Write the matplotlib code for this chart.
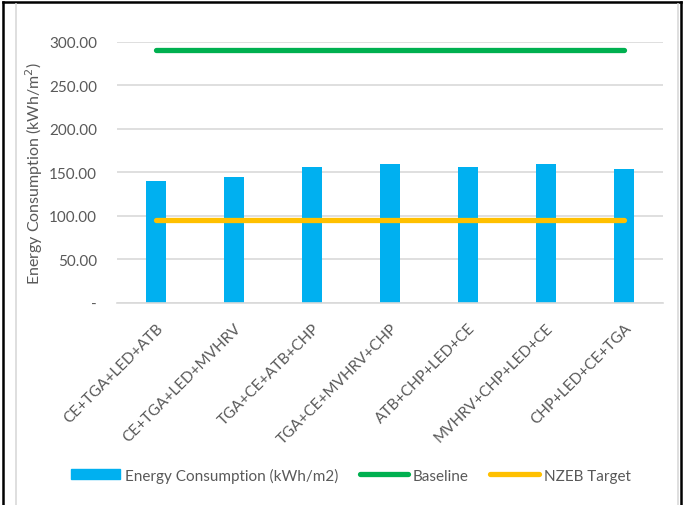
import numpy as np
import matplotlib
matplotlib.use('Agg')
import matplotlib.pyplot as plt
from matplotlib.lines import Line2D
from matplotlib.patches import Patch

plt.rcParams['font.family'] = ['Lato', 'DejaVu Sans']

# --- data ---
combos = ['CE+TGA+LED+ATB', 'CE+TGA+LED+MVHRV', 'TGA+CE+ATB+CHP',
          'TGA+CE+MVHRV+CHP', 'ATB+CHP+LED+CE', 'MVHRV+CHP+LED+CE',
          'CHP+LED+CE+TGA']
energy = [139.5, 144.0, 155.5, 159.0, 156.0, 160.0, 153.5]
baseline = [290.0] * len(combos)
nzeb_target = [95.0] * len(combos)
yticks = [0, 50, 100, 150, 200, 250, 300]

TXT = '#595959'
GRID = '#D9D9D9'

fig = plt.figure(figsize=(6.83, 5.06), dpi=100)
ax = fig.add_axes([117 / 683, 1 - 303.7 / 506, 546 / 683, 261 / 506])

x = np.arange(len(combos))
ax.bar(x, energy, width=0.245, color='#00B0F0', zorder=2)
ax.plot(x, baseline, color='#00B050', lw=3.8, solid_capstyle='round', zorder=3)
ax.plot(x, nzeb_target, color='#FFC000', lw=3.8, solid_capstyle='round', zorder=3)

ax.set_xlim(-0.5, len(combos) - 0.5)
ax.set_ylim(0, 300)
ax.set_yticks(yticks)
ax.set_yticklabels(['-' if v == 0 else f'{v:.2f}' for v in yticks],
                   color=TXT, fontsize=11)
ax.set_xticks(x)
ax.set_xticklabels(combos, rotation=45, ha='right', va='top',
                   rotation_mode='anchor', color=TXT, fontsize=11)
ax.tick_params(axis='both', length=0)
ax.tick_params(axis='y', pad=14.5)
ax.tick_params(axis='x', pad=13)
ax.grid(axis='y', color=GRID, lw=1.2, zorder=0)
ax.set_axisbelow(True)
for s in ['top', 'right', 'left']:
    ax.spines[s].set_visible(False)
ax.spines['bottom'].set_color(GRID)
ax.spines['bottom'].set_linewidth(1.2)

ax.set_ylabel('Energy Consumption (kWh/m$^2$)', color=TXT, fontsize=11.5)
ax.yaxis.set_label_coords(-0.132, 0.5)

handles = [Patch(color='#00B0F0'),
           Line2D([], [], color='#00B050', lw=3.8, solid_capstyle='round'),
           Line2D([], [], color='#FFC000', lw=3.8, solid_capstyle='round')]
labels = ['Energy Consumption (kWh/m2)', 'Baseline', 'NZEB Target']
fig.legend(handles, labels, loc='center', bbox_to_anchor=(351 / 683, 1 - 476 / 506),
           ncol=3, frameon=False, fontsize=11, labelcolor=TXT,
           handlelength=3.2, handleheight=0.6, handletextpad=0.3, columnspacing=1.4)

# outer frame (black) and chart-area edge (light gray)
fig.add_artist(Line2D([3 / 683, 3 / 683], [0, 1 - 3 / 506], color='black', lw=1.8))
fig.add_artist(Line2D([3 / 683, 681 / 683], [1 - 3 / 506, 1 - 3 / 506], color='black', lw=1.8))
fig.add_artist(Line2D([681 / 683, 681 / 683], [0, 1 - 3 / 506], color='black', lw=1.8))
fig.add_artist(Line2D([16 / 683, 16 / 683], [0, 1 - 5 / 506], color=GRID, lw=1.2))
fig.add_artist(Line2D([678 / 683, 678 / 683], [0, 1 - 5 / 506], color=GRID, lw=1.2))

fig.savefig('out.png', dpi=100, facecolor='white')
